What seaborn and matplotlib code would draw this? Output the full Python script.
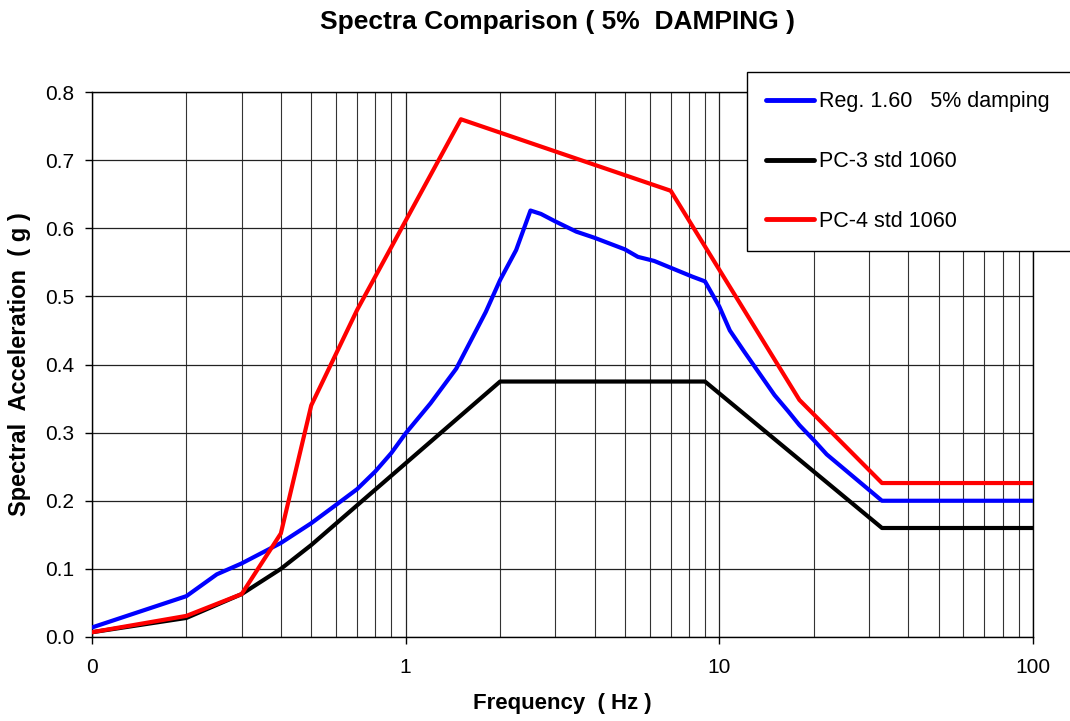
import pandas as pd
import matplotlib.pyplot as plt
import matplotlib.ticker as mticker
import seaborn as sns

# frequency (Hz) / spectral acceleration (g)
reg_freq = [0.1, 0.2, 0.25, 0.3, 0.4, 0.5, 0.6, 0.7, 0.8, 0.9, 1.0, 1.2, 1.45, 1.8, 2.0,
            2.25, 2.5, 2.7, 3.0, 3.5, 4.0, 5.0, 5.5, 6.2, 7.0, 8.2, 9.0, 10.0, 10.8, 12.0,
            15.0, 16.6, 18.0, 20.0, 22.0, 33.0, 100.0]
reg_sa = [0.014, 0.060, 0.092, 0.108, 0.138, 0.167, 0.194, 0.217, 0.243, 0.270, 0.299, 0.343,
          0.394, 0.477, 0.524, 0.568, 0.626, 0.621, 0.610, 0.595, 0.586, 0.569, 0.558, 0.552,
          0.542, 0.529, 0.522, 0.485, 0.450, 0.419, 0.355, 0.331, 0.311, 0.289, 0.268, 0.200,
          0.200]

pc3_freq = [0.1, 0.2, 0.3, 0.4, 0.5, 2.0, 9.0, 33.0, 100.0]
pc3_sa = [0.007, 0.028, 0.063, 0.100, 0.135, 0.375, 0.375, 0.160, 0.160]

pc4_freq = [0.1, 0.2, 0.3, 0.4, 0.5, 0.7, 1.5, 7.0, 18.0, 33.0, 100.0]
pc4_sa = [0.007, 0.031, 0.063, 0.152, 0.340, 0.480, 0.760, 0.655, 0.348, 0.226, 0.226]

series_names = ["Reg. 1.60   5% damping", "PC-3 std 1060", "PC-4 std 1060"]
series_colors = ["#0000ff", "#000000", "#ff0000"]

df = pd.concat([
    pd.DataFrame({"freq": reg_freq, "sa": reg_sa, "series": series_names[0]}),
    pd.DataFrame({"freq": pc3_freq, "sa": pc3_sa, "series": series_names[1]}),
    pd.DataFrame({"freq": pc4_freq, "sa": pc4_sa, "series": series_names[2]}),
])

sns.set_style("white")
plt.rcParams["font.family"] = ["Liberation Sans", "DejaVu Sans"]
plt.rcParams["text.color"] = "black"
plt.rcParams["axes.labelcolor"] = "black"
plt.rcParams["xtick.color"] = "black"
plt.rcParams["ytick.color"] = "black"

fig = plt.figure(figsize=(10.7, 7.21), dpi=100)
ax = fig.add_axes([92 / 1070, 1 - 637 / 721, 941 / 1070, 545 / 721])

sns.lineplot(data=df, x="freq", y="sa", hue="series", hue_order=series_names,
             palette=dict(zip(series_names, series_colors)), sort=False,
             linewidth=3, ax=ax, legend=False, estimator=None, zorder=3)

ax.set_xscale("log")
ax.set_xlim(0.1, 100)
ax.set_ylim(0, 0.8)

ax.xaxis.set_major_locator(mticker.FixedLocator([0.1, 1, 10, 100]))
ax.xaxis.set_major_formatter(mticker.FixedFormatter(["0", "1", "10", "100"]))
ax.xaxis.set_minor_locator(mticker.LogLocator(base=10, subs=range(2, 10)))
ax.xaxis.set_minor_formatter(mticker.NullFormatter())
ax.yaxis.set_major_locator(mticker.MultipleLocator(0.1))
ax.yaxis.set_major_formatter(mticker.FormatStrFormatter("%.1f"))

ax.grid(True, which="major", color="#222222", linewidth=0.9)
ax.grid(True, which="minor", axis="x", color="#333333", linewidth=0.8)
ax.tick_params(axis="both", which="major", direction="out", length=5, width=1,
               labelsize=15, bottom=True, left=True)
ax.tick_params(axis="x", which="major", pad=10)
ax.tick_params(axis="y", which="major", pad=8)
ax.tick_params(axis="x", which="minor", length=0)
for s in ax.spines.values():
    s.set_color("black")
    s.set_linewidth(1)

ax.set_xlabel("Frequency  ( Hz )", fontsize=16, fontweight="bold", labelpad=12)
ax.set_ylabel("Spectral  Acceleration  ( g )", fontsize=17, fontweight="bold", labelpad=10)
fig.text(557 / 1070, 1 - 22 / 721, "Spectra Comparison ( 5%  DAMPING )",
         ha="center", va="center", fontsize=19, fontweight="bold")

# legend box runs off the right edge, as in the original
handles = [plt.Line2D([], [], color=c, linewidth=3.5) for c in series_colors]
leg = fig.legend(handles, series_names, loc="upper left", mode="expand",
                 bbox_to_anchor=(747 / 1070, 1 - 72 / 721, 335 / 1070, 0.0), fontsize=15.5,
                 frameon=True, fancybox=False, shadow=False, framealpha=1,
                 edgecolor="black", handlelength=2.2, handletextpad=0.25,
                 labelspacing=1.8, borderpad=0.9, borderaxespad=0)
leg.get_frame().set_linewidth(1)
leg.set_zorder(5)

fig.savefig("out.png", dpi=100)
